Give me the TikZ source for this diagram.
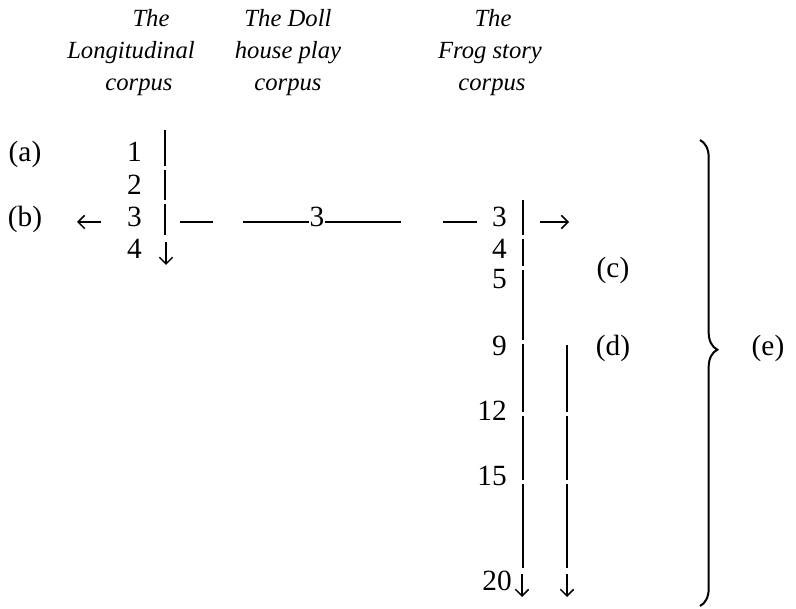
\documentclass[tikz,border=0pt]{standalone}
\usepackage{fontspec}
\setmainfont{Liberation Serif}
\usetikzlibrary{arrows.meta,decorations.pathreplacing}

\begin{document}
\begin{tikzpicture}[x=0.75pt,y=-0.75pt,
  txt/.style={inner sep=0pt,text height=0.68em,text depth=0pt,font=\fontsize{22}{26}\selectfont},
  num/.style={txt,anchor=east},
  head/.style={inner sep=0pt,text height=0.68em,text depth=0pt,font=\fontsize{18.5}{22}\selectfont\itshape},
  bar/.style={line width=1.35pt},
  dashline/.style={line width=1.15pt},
  glyph arrow/.style={line width=1.15pt,-{Straight Barb[length=5pt,width=10pt,line width=1.15pt]}},
]
\useasboundingbox (0,0) rectangle (796,609);

% column headings
\node[head] (h1a) at (151,22) {The};
\node[head] (h1b) at (131,54) {Longitudinal};
\node[head] (h1c) at (139,86) {corpus};
\node[head] (h2a) at (288,22) {The Doll};
\node[head] (h2b) at (288,54) {house play};
\node[head] (h2c) at (288,86) {corpus};
\node[head] (h3a) at (493,22) {The};
\node[head] (h3b) at (490,54) {Frog story};
\node[head] (h3c) at (492,86) {corpus};

% side labels
\node[txt] (la) at (25,157) {(a)};
\node[txt] (lb) at (25,222) {(b)};
\node[txt] (lc) at (613,273) {(c)};
\node[txt] (ld) at (613,351) {(d)};
\node[txt] (le) at (768,351) {(e)};

% longitudinal column
\node[num] (l1) at (142,157) {1};
\node[num] (l2) at (142,190) {2};
\node[num] (l3) at (142,222) {3};
\node[num] (l4) at (142,254) {4};

% doll house value
\node[txt] (m3) at (317,222) {3};

% frog story column
\node[num] (f3)  at (507,222) {3};
\node[num] (f4)  at (507,254) {4};
\node[num] (f5)  at (507,284) {5};
\node[num] (f9)  at (507,351) {9};
\node[num] (f12) at (507,416) {12};
\node[num] (f15) at (507,481) {15};
\node[num] (f20) at (512,586) {20};

% bar segments of the longitudinal column
\coordinate (p1) at (165,130); \coordinate (p2) at (165,166);
\coordinate (p3) at (165,170); \coordinate (p4) at (165,200);
\coordinate (p5) at (165,204); \coordinate (p6) at (165,235);
\coordinate (p7) at (166,242); \coordinate (p8) at (166,265);
\draw[bar] (p1) -- (p2);
\draw[bar] (p3) -- (p4);
\draw[bar] (p5) -- (p6);
\draw[glyph arrow] (p7) -- (p8);

% left arrow towards (b)
\coordinate (bl1) at (101,222); \coordinate (bl2) at (77,222);
\draw[glyph arrow] (bl1) -- (bl2);

% broken horizontal link across the corpora
\coordinate (q1) at (180,222); \coordinate (q2) at (213,222);
\coordinate (q3) at (243,222); \coordinate (q6) at (401,222);
\coordinate (q7) at (443,222); \coordinate (q8) at (477,222);
\draw[dashline] (q1) -- (q2);
\draw[dashline] (q3) -- (m3.west);
\draw[dashline] (m3.east) -- (q6);
\draw[dashline] (q7) -- (q8);

% right arrow after the frog story 3
\coordinate (r1) at (540,222); \coordinate (r2) at (569,222);
\draw[glyph arrow] (r1) -- (r2);

% bar segments of the frog story column
\coordinate (s1) at (523,200);  \coordinate (s2) at (523,235);
\coordinate (s3) at (523,239);  \coordinate (s4) at (523,266);
\coordinate (s5) at (523,270);  \coordinate (s6) at (523,340);
\coordinate (s7) at (523,344);  \coordinate (s8) at (523,412);
\coordinate (s9) at (523,416);  \coordinate (s10) at (523,480);
\coordinate (s11) at (523,484); \coordinate (s12) at (523,568);
\coordinate (s13) at (522,574); \coordinate (s14) at (522,597);
\draw[bar] (s1) -- (s2);
\draw[bar] (s3) -- (s4);
\draw[bar] (s5) -- (s6);
\draw[bar] (s7) -- (s8);
\draw[bar] (s9) -- (s10);
\draw[bar] (s11) -- (s12);
\draw[glyph arrow] (s13) -- (s14);

% second bar, from 9 onwards
\coordinate (t1) at (567,345);  \coordinate (t2) at (567,412);
\coordinate (t3) at (567,416);  \coordinate (t4) at (567,480);
\coordinate (t5) at (567,484);  \coordinate (t6) at (567,568);
\coordinate (t7) at (567,574);  \coordinate (t8) at (567,597);
\draw[bar] (t1) -- (t2);
\draw[bar] (t3) -- (t4);
\draw[bar] (t5) -- (t6);
\draw[glyph arrow] (t7) -- (t8);

% brace grouping (c) and (d)
\coordinate (br1) at (700,140); \coordinate (br2) at (700,606);
\draw[line width=1.5pt,decorate,decoration={brace,amplitude=13pt,aspect=0.45}] (br1) -- (br2);
\end{tikzpicture}
\end{document}
